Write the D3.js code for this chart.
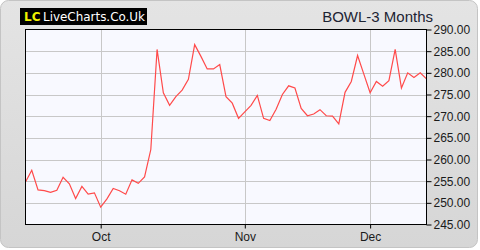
<!DOCTYPE html>
<html><head><meta charset="utf-8">
<script src="https://cdn.jsdelivr.net/npm/d3@7/dist/d3.min.js"></script>
<style>html,body{margin:0;padding:0;background:#fff;}svg{display:block;}</style>
</head><body>
<script>
const prices = [254.8,257.5,253.0,252.8,252.4,252.9,255.9,254.4,251.0,253.8,252.0,252.3,
249.0,250.9,253.3,252.8,252.0,255.3,254.5,256.0,262.3,285.4,275.4,272.5,274.5,276.0,278.5,
286.5,283.8,280.9,280.9,281.9,274.5,273.0,269.5,271.0,272.5,274.8,269.5,269.0,271.6,275.0,
277.0,276.5,271.8,270.1,270.5,271.5,270.1,270.0,268.2,275.5,278.0,284.0,279.7,275.4,278.0,
276.9,278.2,285.4,276.5,280.0,278.9,280.0,278.6];
const monthIdx = [12, 35, 55];
const monthLabels = ["Oct", "Nov", "Dec"];
const yTicks = [245,250,255,260,265,270,275,280,285,290];
const title = "BOWL-3 Months";

const W = 480, H = 250;
const L = 25.5, R = 426.5, T = 29.5, B = 224.5;
const svg = d3.select("body").append("svg").attr("width", W).attr("height", H);
const defs = svg.append("defs");
const g = defs.append("linearGradient").attr("id","bg").attr("x1",0).attr("y1",0).attr("x2",0).attr("y2",1);
g.append("stop").attr("offset","0%").attr("stop-color","#e4e4e4");
g.append("stop").attr("offset","100%").attr("stop-color","#d6d6d6");
svg.append("rect").attr("x",0.5).attr("y",0.5).attr("width",W-3).attr("height",H-3).attr("rx",8)
  .attr("fill","url(#bg)").attr("stroke","#c4c4c4");

const x = d3.scaleLinear().domain([0, prices.length-1]).range([L, R]);
const y = d3.scaleLinear().domain([245, 290]).range([B, T]);

svg.append("rect").attr("x",L).attr("y",T).attr("width",R-L).attr("height",B-T).attr("fill","#f8f9ff");

// gridlines
svg.append("g").selectAll("line").data(yTicks.slice(1,-1)).join("line")
  .attr("x1",L).attr("x2",R).attr("y1",d=>Math.round(y(d))+0.5).attr("y2",d=>Math.round(y(d))+0.5)
  .attr("stroke","#c8c8c8");
svg.append("g").selectAll("line").data(monthIdx).join("line")
  .attr("y1",T).attr("y2",B).attr("x1",d=>Math.round(x(d))+0.5).attr("x2",d=>Math.round(x(d))+0.5)
  .attr("stroke","#c8c8c8");

// line
svg.append("path").datum(prices)
  .attr("d", d3.line().x((d,i)=>x(i)).y(d=>y(d)))
  .attr("fill","none").attr("stroke","#ff4a4a").attr("stroke-width",1.2);

svg.append("rect").attr("x",L).attr("y",T).attr("width",R-L).attr("height",B-T)
  .attr("fill","none").attr("stroke","#000");

// right axis
const ya = svg.append("g").attr("transform",`translate(${R},0)`)
  .call(d3.axisRight(y).tickValues(yTicks).tickFormat(d=>d.toFixed(2)).tickSize(5).tickSizeOuter(0));
ya.select(".domain").remove();
ya.selectAll("text").attr("font-family","Liberation Sans, Arial, sans-serif").attr("font-size","12px").attr("fill","#1a1a1a").attr("x",7);

// bottom axis
const xa = svg.append("g").attr("transform",`translate(0,${B})`)
  .call(d3.axisBottom(x).tickValues(monthIdx).tickFormat((d,i)=>monthLabels[i]).tickSize(4).tickSizeOuter(0));
xa.select(".domain").remove();
xa.selectAll("text").attr("font-family","Liberation Sans, Arial, sans-serif").attr("font-size","12px").attr("fill","#1a1a1a").attr("y",8);

// logo
svg.append("rect").attr("x",20).attr("y",8).attr("width",127).attr("height",17).attr("fill","#000");
svg.append("text").attr("x",24).attr("y",21).text("LC").attr("fill","#f0f000")
  .attr("font-family","DejaVu Sans, Verdana, sans-serif").attr("font-weight","bold").attr("font-size","12px");
svg.append("text").attr("x",43).attr("y",21).text("LiveCharts.Co.Uk").attr("fill","#fff")
  .attr("font-family","DejaVu Sans, Verdana, sans-serif").attr("font-size","12px")
  .attr("textLength",102).attr("lengthAdjust","spacingAndGlyphs");

svg.append("text").attr("x",433).attr("y",22).attr("text-anchor","end").text(title)
  .attr("font-family","Liberation Sans, Arial, sans-serif").attr("font-size","15px").attr("fill","#1c2333");
</script>
</body></html>
